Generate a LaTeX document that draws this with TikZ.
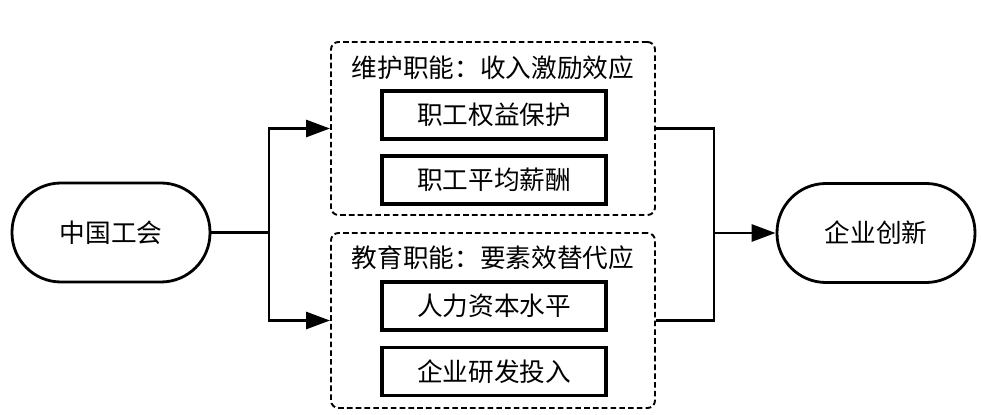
\documentclass[tikz,border=0pt]{standalone}
\usepackage{fontspec}
\newfontfamily\cjk{Noto Sans CJK SC}
\usepackage{tikz}
\usetikzlibrary{positioning}
\usetikzlibrary{arrows.meta}

\begin{document}
\begin{tikzpicture}[
    every node/.style={font=\cjk\fontsize{14.6}{17}\selectfont},
    ends/.style={draw, line width=1.6pt, rounded corners=0.98cm, minimum width=3.96cm, minimum height=1.98cm},
    group/.style={draw, line width=1.1pt, dash pattern=on 3.2pt off 1.8pt, rounded corners=0.15cm, minimum width=6.48cm},
    item/.style={draw, line width=2pt, minimum width=4.48cm, minimum height=0.96cm},
    link/.style={line width=1.6pt},
    arrow/.style={line width=1.6pt, -{Triangle[length=4.8mm, width=3.4mm]}}
]
    \useasboundingbox (0,0) rectangle (19.62,8.28);

    % Start and end
    \node[ends] (union) at (2.22,3.63) {中国工会};
    \node[ends] (innov) at (17.52,3.62) {企业创新};

    % Two channels
    \node[group, minimum height=3.46cm] (maint) at (9.86,5.71) {};
    \node[group, minimum height=3.5cm] (edu) at (9.86,1.87) {};

    \node (maintitle) at (9.86,6.92) {维护职能：收入激励效应};
    \node[item] (rights) at (9.88,5.98) {职工权益保护};
    \node[item] (wage) at (9.88,4.68) {职工平均薪酬};

    \node (edutitle) at (9.86,3.12) {教育职能：要素效替代应};
    \node[item] (human) at (9.88,2.16) {人力资本水平};
    \node[item] (rnd) at (9.88,0.85) {企业研发投入};

    % Connectors
    \coordinate (fork) at (5.38,3.63);
    \coordinate (join) at (14.28,3.62);

    \draw[link] (union.east) -- (fork);
    \draw[arrow] (fork) |- (maint.west);
    \draw[arrow] (fork) |- (edu.west);
    \draw[link] (maint.east) -| (join);
    \draw[link] (edu.east) -| (join);
    \draw[arrow] (join) -- (innov.west);
\end{tikzpicture}
\end{document}
